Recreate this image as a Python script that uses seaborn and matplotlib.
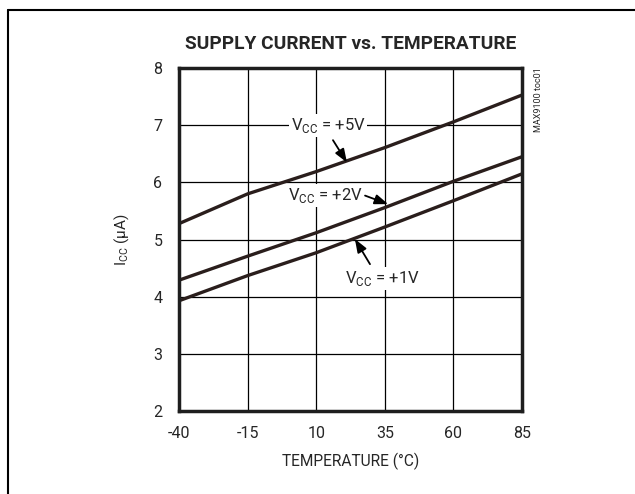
import pandas as pd
import matplotlib.pyplot as plt
import seaborn as sns

# values
temps = [-40, -15, 10, 35, 60, 85]
icc_5v = [5.28, 5.80, 6.19, 6.61, 7.06, 7.53]
icc_2v = [4.29, 4.71, 5.12, 5.56, 6.02, 6.45]
icc_1v = [3.93, 4.37, 4.77, 5.22, 5.68, 6.15]
series = ["+5V", "+2V", "+1V"]

df = pd.DataFrame({
    "temp": temps * 3,
    "icc": icc_5v + icc_2v + icc_1v,
    "vcc": [s for s in series for _ in temps],
})

sns.set_style("white")
plt.rcParams["font.family"] = ["Roboto", "DejaVu Sans"]
plt.rcParams["axes.unicode_minus"] = False
plt.rcParams["mathtext.fontset"] = "custom"
plt.rcParams["mathtext.rm"] = "Roboto"

fig = plt.figure(figsize=(6.35, 4.94), dpi=100)
ax = fig.add_axes([0.282, 0.168, 0.540, 0.694])

sns.lineplot(data=df, x="temp", y="icc", hue="vcc", ax=ax,
             palette=["#2a1e1c"] * 3, linewidth=2.4, legend=False)

ax.set_xlim(-40, 85)
ax.set_ylim(2, 8)
ax.set_xticks(temps)
ax.set_yticks(range(2, 9))
ax.grid(True, color="black", linewidth=0.9)
for s in ax.spines.values():
    s.set_linewidth(2.5)
    s.set_color("#1e1e1e")
ax.tick_params(axis="x", labelsize=11.5, length=0, pad=11)
ax.tick_params(axis="y", labelsize=11.5, length=0, pad=12)

ax.set_xlabel("TEMPERATURE (°C)", fontsize=11.2, labelpad=8)
ax.set_ylabel("I$_{\\mathregular{CC}}$ (µA)", fontsize=11, labelpad=16)
ax.set_title("SUPPLY CURRENT vs. TEMPERATURE", fontsize=13.8,
             fontweight="bold", pad=14)

box = dict(facecolor="white", edgecolor="none", pad=1.5)
ax.text(14.3, 7.0, "V$_{\\mathregular{CC}}$ = +5V", fontsize=12,
        ha="center", va="center", bbox=box)
ax.text(13.2, 5.78, "V$_{\\mathregular{CC}}$ = +2V", fontsize=12,
        ha="center", va="center", bbox=box)
ax.text(34.0, 4.32, "V$_{\\mathregular{CC}}$ = +1V", fontsize=12,
        ha="center", va="center", bbox=box)

arrow = dict(arrowstyle="-|>,head_length=0.8,head_width=0.3",
             color="black", lw=1.3, shrinkA=0, shrinkB=0)
ax.annotate("", xy=(21.2, 6.35), xytext=(16.1, 6.74), arrowprops=arrow)
ax.annotate("", xy=(36.2, 5.62), xytext=(27.8, 5.77), arrowprops=arrow)
ax.annotate("", xy=(24.1, 5.01), xytext=(29.6, 4.57), arrowprops=arrow)

fig.text(0.848, 0.864, "MAX9100 toc01", rotation=90, fontsize=6.5,
         ha="center", va="top")

# outer frame of the datasheet figure
fig.add_artist(plt.Line2D([0.013, 0.013], [0.0, 0.98], color="black", lw=1.5))
fig.add_artist(plt.Line2D([0.013, 1.0], [0.98, 0.98], color="black", lw=1.5))

fig.savefig("out.png", dpi=100)
